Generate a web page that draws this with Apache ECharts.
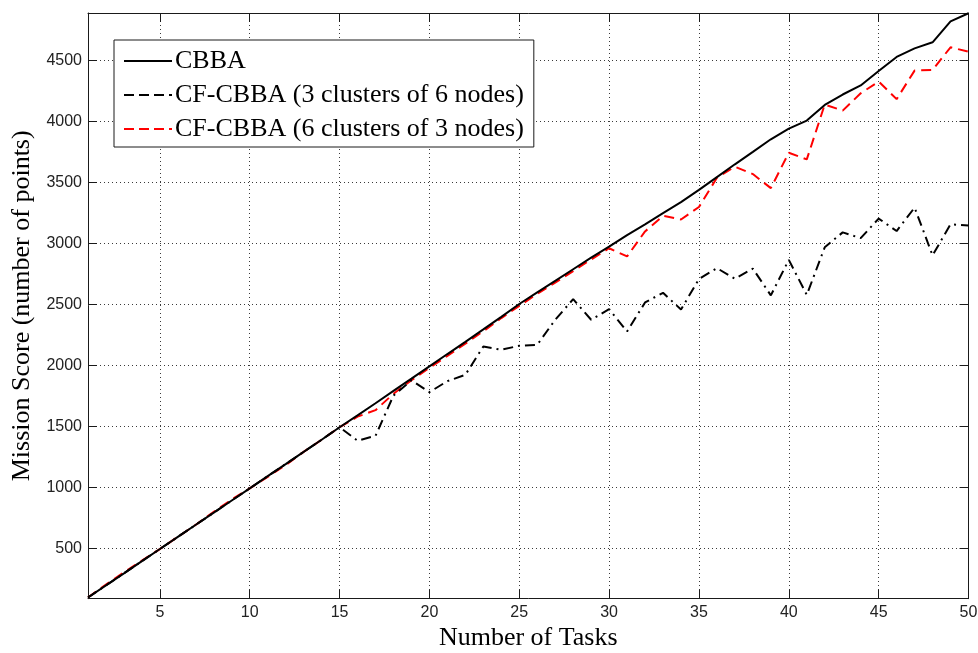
<!DOCTYPE html>
<html>
<head>
<meta charset="utf-8">
<script src="https://cdn.jsdelivr.net/npm/echarts@6/dist/echarts.min.js"></script>
<style>
html,body{margin:0;padding:0;background:#fff;}
#chart{width:978px;height:653px;}
</style>
</head>
<body>
<div id="chart"></div>
<script>
const tasks = [1,2,3,4,5,6,7,8,9,10,11,12,13,14,15,16,17,18,19,20,21,22,23,24,25,26,27,28,29,30,31,32,33,34,35,36,37,38,39,40,41,42,43,44,45,46,47,48,49,50];
const cbba = [100,199,298,398,497,597,696,795,895,994,1094,1193,1293,1393,1495,1593,1692,1793,1893,1994,2095,2195,2297,2400,2505,2600,2695,2790,2885,2975,3070,3158,3250,3340,3440,3545,3650,3752,3855,3942,4008,4137,4222,4296,4415,4530,4600,4650,4822,4888];
const cf3x6 = [100,199,298,398,497,597,696,795,895,994,1094,1193,1293,1393,1495,1385,1425,1755,1880,1783,1873,1925,2157,2130,2163,2171,2376,2545,2376,2463,2280,2518,2597,2460,2710,2799,2712,2795,2576,2867,2580,2970,3092,3045,3205,3103,3295,2904,3158,3148];
const cf6x3 = [100,206,306,402,497,597,696,802,903,994,1088,1185,1293,1393,1495,1582,1635,1770,1880,1982,2080,2180,2282,2390,2490,2588,2680,2775,2870,2962,2895,3100,3228,3198,3300,3540,3630,3570,3455,3745,3690,4140,4090,4232,4328,4184,4418,4424,4609,4573];
const xTicks = [5,10,15,20,25,30,35,40,45,50];
const yTicks = [500,1000,1500,2000,2500,3000,3500,4000,4500];
const seriesNames = ['CBBA','CF-CBBA (3 clusters of 6 nodes)','CF-CBBA (6 clusters of 3 nodes)'];

const xMin = 1, xMax = 50, yMin = 90, yMax = 4890;
const axisColor = '#1a1a1a';
const serif = "'Liberation Serif','Times New Roman',serif";
const sans = "'Liberation Sans',Arial,Helvetica,sans-serif";

function pairs(vals){ return tasks.map((t,i)=>[t, vals[i]]); }

const chart = echarts.init(document.getElementById('chart'), null, {renderer:'canvas'});
const gridLine = {show:true, lineStyle:{color:'#3a3a3a', width:1, type:[1,3]}};
chart.setOption({
  animation:false,
  backgroundColor:'#fff',
  grid:{left:88, right:9.5, top:13, bottom:54.3, containLabel:false, outerBoundsMode:'none'},
  legend:{
    orient:'vertical', left:114, top:40,
    data: [
      {name:seriesNames[0]},
      {name:seriesNames[1], lineStyle:{type:[10,5]}},
      {name:seriesNames[2], lineStyle:{type:[10,5]}}
    ],
    backgroundColor:'#fff', borderColor:'#1a1a1a', borderWidth:1,
    padding:[8,10,5,9], itemGap:8, itemWidth:48, itemHeight:14,
    itemStyle:{opacity:0, color:'transparent', borderWidth:0},
    textStyle:{fontFamily:serif, fontSize:26, color:'#000', lineHeight:26, padding:[0,0,0,-2]},
    selectedMode:false
  },
  xAxis:[{
    type:'value', min:xMin, max:xMax, position:'bottom',
    name:'Number of Tasks', nameLocation:'middle', nameGap:25,
    nameTextStyle:{fontFamily:serif, fontSize:26, color:'#000'},
    axisLine:{show:true, onZero:false, lineStyle:{color:axisColor, width:1}},
    axisTick:{show:true, inside:true, length:9, customValues:xTicks, lineStyle:{color:axisColor}},
    axisLabel:{show:true, margin:6, customValues:xTicks, fontFamily:sans, fontSize:16, color:'#222', formatter:(v)=>String(v)},
    splitLine:gridLine
  },{
    type:'value', min:xMin, max:xMax, position:'top',
    axisLine:{show:true, onZero:false, lineStyle:{color:axisColor, width:1}},
    axisTick:{show:true, inside:true, length:9, customValues:xTicks, lineStyle:{color:axisColor}},
    axisLabel:{show:false},
    splitLine:{show:false}
  }],
  yAxis:[{
    type:'value', min:yMin, max:yMax, position:'left',
    name:'Mission Score (number of points)', nameLocation:'middle', nameGap:52,
    nameTextStyle:{fontFamily:serif, fontSize:26, color:'#000'},
    axisLine:{show:true, onZero:false, lineStyle:{color:axisColor, width:1}},
    axisTick:{show:true, inside:true, length:9, customValues:yTicks, lineStyle:{color:axisColor}},
    axisLabel:{show:true, margin:6, customValues:yTicks, fontFamily:sans, fontSize:16, color:'#222', formatter:(v)=>String(v)},
    splitLine:gridLine
  },{
    type:'value', min:yMin, max:yMax, position:'right',
    axisLine:{show:true, onZero:false, lineStyle:{color:axisColor, width:1}},
    axisTick:{show:true, inside:true, length:9, customValues:yTicks, lineStyle:{color:axisColor}},
    axisLabel:{show:false},
    splitLine:{show:false}
  }],
  series:[
    {name:seriesNames[2], type:'line', data:pairs(cf6x3), showSymbol:false, symbol:'none', z:3,
     lineStyle:{color:'#ff0000', width:2, type:[10,6]}, itemStyle:{color:'#ff0000'}},
    {name:seriesNames[1], type:'line', data:pairs(cf3x6), showSymbol:false, symbol:'none', z:4,
     lineStyle:{color:'#000', width:2, type:[10,5,2,5]}, itemStyle:{color:'#000'}},
    {name:seriesNames[0], type:'line', data:pairs(cbba), showSymbol:false, symbol:'none', z:5,
     lineStyle:{color:'#000', width:2, type:'solid'}, itemStyle:{color:'#000'}}
  ]
});
</script>
</body>
</html>
